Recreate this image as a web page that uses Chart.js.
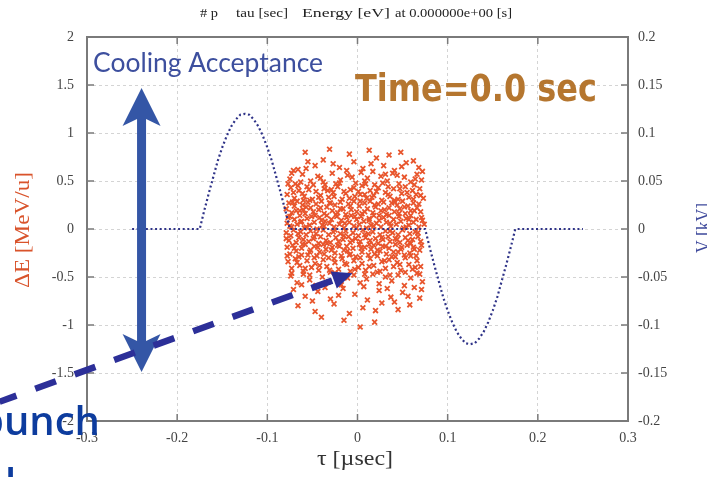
<!DOCTYPE html>
<html>
<head>
<meta charset="utf-8">
<script src="https://cdn.jsdelivr.net/npm/chart.js@4.4.0/dist/chart.umd.min.js"></script>
<style>
html, body { margin: 0; padding: 0; background: #fff; }
canvas { display: block; }
</style>
</head>
<body>
<canvas id="grafico" width="707" height="477"></canvas>
<script>
// =========================
// DADOS
// =========================

const xTicks = [-0.3, -0.2, -0.1, 0, 0.1, 0.2, 0.3];
const xTickLabels = ['-0.3', '-0.2', '-0.1', '0', '0.1', '0.2', '0.3'];
const yTicks = [-2, -1.5, -1, -0.5, 0, 0.5, 1, 1.5, 2];
const yTickLabels = ['-2', '-1.5', '-1', '-0.5', '0', '0.5', '1', '1.5', '2'];
const vTicks = [-0.2, -0.15, -0.1, -0.05, 0, 0.05, 0.1, 0.15, 0.2];
const vTickLabels = ['-0.2', '-0.15', '-0.1', '-0.05', '0', '0.05', '0.1', '0.15', '0.2'];

// tensão V [kV] em função de tau [usec]
const voltTau = [
    -0.25, -0.245, -0.24, -0.235, -0.23, -0.225, -0.22, -0.215, -0.21, -0.205,
    -0.2, -0.195, -0.19, -0.185, -0.18, -0.175, -0.17, -0.165, -0.16, -0.155,
    -0.15, -0.145, -0.14, -0.135, -0.13, -0.125, -0.12, -0.115, -0.11, -0.105,
    -0.1, -0.095, -0.09, -0.085, -0.08, -0.075, -0.07, -0.065, -0.06, -0.055,
    -0.05, -0.045, -0.04, -0.035, -0.03, -0.025, -0.02, -0.015, -0.01, -0.005,
    0, 0.005, 0.01, 0.015, 0.02, 0.025, 0.03, 0.035, 0.04, 0.045,
    0.05, 0.055, 0.06, 0.065, 0.07, 0.075, 0.08, 0.085, 0.09, 0.095,
    0.1, 0.105, 0.11, 0.115, 0.12, 0.125, 0.13, 0.135, 0.14, 0.145,
    0.15, 0.155, 0.16, 0.165, 0.17, 0.175, 0.18, 0.185, 0.19, 0.195,
    0.2, 0.205, 0.21, 0.215, 0.22, 0.225, 0.23, 0.235, 0.24, 0.245, 0.25
];
const voltKV = [
    0, 0, 0, 0, 0, 0, 0, 0, 0, 0, 0, 0, 0, 0, 0, 0,
    0.019, 0.037, 0.054, 0.071, 0.085, 0.097, 0.107, 0.114, 0.119, 0.12,
    0.119, 0.114, 0.107, 0.097, 0.085, 0.071, 0.054, 0.037, 0.019,
    0, 0, 0, 0, 0, 0, 0, 0, 0, 0, 0, 0, 0, 0, 0, 0,
    0, 0, 0, 0, 0, 0, 0, 0, 0, 0, 0, 0, 0, 0, 0,
    -0.019, -0.037, -0.054, -0.071, -0.085, -0.097, -0.107, -0.114, -0.119, -0.12,
    -0.119, -0.114, -0.107, -0.097, -0.085, -0.071, -0.054, -0.037, -0.019,
    0, 0, 0, 0, 0, 0, 0, 0, 0, 0, 0, 0, 0, 0, 0, 0
];

// partículas [tau usec, dE MeV/u]
const particulas = [
    [-0.058,0.80],[-0.031,0.83],[-0.009,0.78],[0.013,0.82],[0.048,0.80],[0.062,0.71],[-0.071,0.61],[0.035,0.77],
    [-0.066,0.62],[-0.047,0.66],[-0.038,0.72],[-0.020,0.64],[-0.004,0.70],[0.006,0.63],[0.021,0.74],[0.029,0.66],
    [0.041,0.61],[0.054,0.69],[0.068,0.64],[-0.055,0.70],[-0.012,0.61],[0.015,0.68],
    [-0.075,0.52],[-0.069,0.47],[-0.061,0.57],[-0.052,0.50],[-0.044,0.55],[-0.036,0.46],[-0.028,0.58],[-0.019,0.51],
    [-0.011,0.56],[-0.002,0.48],[0.004,0.59],[0.011,0.53],[0.019,0.46],[0.026,0.55],[0.033,0.50],[0.039,0.58],
    [0.046,0.47],[0.052,0.54],[0.059,0.49],[0.066,0.57],[0.071,0.51],[-0.063,0.49],[-0.024,0.47],[0.008,0.50],[0.044,0.56],
    [-0.078,0.36],[-0.074,0.43],[-0.070,0.32],[-0.065,0.40],[-0.059,0.34],[-0.056,0.44],[-0.050,0.31],[-0.046,0.39],
    [-0.041,0.35],[-0.037,0.42],[-0.032,0.33],[-0.027,0.38],[-0.022,0.44],[-0.017,0.31],[-0.013,0.37],[-0.008,0.41],
    [-0.003,0.34],[0.001,0.39],[0.005,0.45],[0.010,0.32],[0.014,0.40],[0.018,0.35],[0.023,0.43],[0.027,0.30],
    [0.031,0.38],[0.036,0.34],[0.040,0.42],[0.045,0.31],[0.049,0.37],[0.053,0.44],[0.057,0.33],[0.061,0.40],
    [0.065,0.36],[0.069,0.42],[0.073,0.32],[-0.061,0.37],[-0.029,0.41],[0.008,0.36],[0.034,0.44],[0.062,0.31],
    [-0.079,0.21],[-0.076,0.27],[-0.073,0.17],[-0.070,0.24],[-0.067,0.29],[-0.064,0.19],[-0.061,0.25],[-0.058,0.16],
    [-0.055,0.28],[-0.052,0.22],[-0.049,0.18],[-0.046,0.26],[-0.043,0.20],[-0.040,0.29],[-0.037,0.16],[-0.034,0.23],
    [-0.031,0.27],[-0.028,0.19],[-0.025,0.25],[-0.022,0.17],[-0.019,0.28],[-0.016,0.21],[-0.013,0.15],[-0.010,0.26],
    [-0.007,0.20],[-0.004,0.29],[-0.001,0.18],[0.002,0.24],[0.005,0.16],[0.008,0.27],[0.011,0.21],[0.014,0.29],
    [0.017,0.17],[0.020,0.23],[0.023,0.26],[0.026,0.19],[0.029,0.28],[0.032,0.15],[0.035,0.22],[0.038,0.27],
    [0.041,0.18],[0.044,0.25],[0.047,0.21],[0.050,0.29],[0.053,0.16],[0.056,0.24],[0.059,0.19],[0.062,0.27],
    [0.066,0.22],[0.070,0.18],
    [-0.078,0.06],[-0.075,0.13],[-0.073,0.02],[-0.070,0.10],[-0.067,0.05],[-0.064,0.14],[-0.062,0.08],[-0.059,0.01],
    [-0.056,0.11],[-0.053,0.04],[-0.051,0.13],[-0.048,0.07],[-0.045,0.00],[-0.042,0.12],[-0.040,0.09],[-0.037,0.03],
    [-0.034,0.14],[-0.031,0.06],[-0.029,0.10],[-0.026,0.02],[-0.023,0.13],[-0.020,0.05],[-0.018,0.09],[-0.015,0.01],
    [-0.012,0.12],[-0.009,0.07],[-0.007,0.14],[-0.004,0.03],[-0.001,0.10],[0.002,0.05],[0.004,0.13],[0.007,0.08],
    [0.010,0.01],[0.013,0.11],[0.015,0.04],[0.018,0.14],[0.021,0.06],[0.024,0.09],[0.026,0.02],[0.029,0.12],
    [0.032,0.07],[0.035,0.14],[0.037,0.03],[0.040,0.10],[0.043,0.05],[0.046,0.13],[0.048,0.08],[0.051,0.01],
    [0.054,0.11],[0.057,0.04],[0.059,0.14],[0.062,0.07],[0.065,0.10],[0.068,0.02],[0.071,0.12],
    [-0.079,-0.04],[-0.076,-0.12],[-0.074,-0.07],[-0.071,-0.01],[-0.068,-0.14],[-0.065,-0.09],[-0.063,-0.03],[-0.060,-0.11],
    [-0.057,-0.06],[-0.054,-0.13],[-0.052,-0.02],[-0.049,-0.10],[-0.046,-0.05],[-0.043,-0.15],[-0.041,-0.08],[-0.038,-0.01],
    [-0.035,-0.12],[-0.032,-0.06],[-0.030,-0.14],[-0.027,-0.03],[-0.024,-0.09],[-0.021,-0.13],[-0.019,-0.05],[-0.016,-0.11],
    [-0.013,-0.02],[-0.010,-0.08],[-0.008,-0.14],[-0.005,-0.04],[-0.002,-0.10],[0.001,-0.07],[0.003,-0.13],[0.006,-0.01],
    [0.009,-0.09],[0.012,-0.05],[0.014,-0.12],[0.017,-0.03],[0.020,-0.10],[0.023,-0.15],[0.025,-0.06],[0.028,-0.11],
    [0.031,-0.02],[0.034,-0.08],[0.036,-0.13],[0.039,-0.04],[0.042,-0.10],[0.045,-0.06],[0.047,-0.14],[0.050,-0.01],
    [0.053,-0.09],[0.056,-0.12],[0.058,-0.05],[0.061,-0.11],[0.064,-0.03],[0.067,-0.08],[0.070,-0.13],
    [-0.078,-0.19],[-0.075,-0.26],[-0.072,-0.17],[-0.068,-0.23],[-0.065,-0.29],[-0.062,-0.20],[-0.058,-0.16],[-0.055,-0.27],
    [-0.052,-0.22],[-0.048,-0.18],[-0.045,-0.28],[-0.042,-0.24],[-0.038,-0.16],[-0.035,-0.21],[-0.032,-0.30],[-0.028,-0.19],
    [-0.025,-0.25],[-0.022,-0.17],[-0.018,-0.28],[-0.015,-0.22],[-0.012,-0.18],[-0.008,-0.26],[-0.005,-0.20],[-0.002,-0.29],
    [0.002,-0.16],[0.005,-0.24],[0.008,-0.19],[0.012,-0.27],[0.015,-0.21],[0.018,-0.17],[0.022,-0.28],[0.025,-0.23],
    [0.028,-0.18],[0.032,-0.26],[0.035,-0.20],[0.038,-0.29],[0.042,-0.16],[0.045,-0.24],[0.048,-0.21],[0.052,-0.27],
    [0.055,-0.17],[0.058,-0.25],[0.062,-0.19],[0.065,-0.28],[0.069,-0.22],
    [-0.077,-0.34],[-0.073,-0.41],[-0.069,-0.31],[-0.064,-0.38],[-0.060,-0.44],[-0.056,-0.33],[-0.051,-0.40],[-0.047,-0.36],
    [-0.043,-0.43],[-0.038,-0.32],[-0.034,-0.39],[-0.030,-0.45],[-0.025,-0.35],[-0.021,-0.42],[-0.017,-0.31],[-0.012,-0.37],
    [-0.008,-0.44],[-0.004,-0.33],[0.001,-0.40],[0.005,-0.36],[0.009,-0.43],[0.014,-0.31],[0.018,-0.38],[0.022,-0.45],
    [0.027,-0.34],[0.031,-0.41],[0.035,-0.32],[0.040,-0.39],[0.044,-0.35],[0.048,-0.43],[0.053,-0.30],[0.057,-0.37],
    [0.061,-0.42],[0.066,-0.33],[0.070,-0.39],
    [-0.074,-0.49],[-0.067,-0.56],[-0.060,-0.47],[-0.053,-0.53],[-0.046,-0.59],[-0.039,-0.50],[-0.032,-0.55],[-0.025,-0.46],
    [-0.018,-0.58],[-0.011,-0.51],[-0.004,-0.48],[0.003,-0.56],[0.010,-0.52],[0.017,-0.47],[0.024,-0.57],[0.031,-0.50],
    [0.038,-0.54],[0.045,-0.48],[0.052,-0.59],[0.059,-0.51],[0.066,-0.46],[0.072,-0.55],
    [-0.071,-0.63],[-0.058,-0.70],[-0.044,-0.65],[-0.030,-0.73],[-0.016,-0.62],[-0.003,-0.68],[0.011,-0.74],[0.024,-0.64],
    [0.037,-0.71],[0.050,-0.66],[0.063,-0.61],[0.069,-0.72],
    [-0.066,-0.80],[-0.047,-0.86],[-0.026,-0.78],[-0.009,-0.88],[0.006,-0.82],[0.027,-0.77],[0.045,-0.84],[0.058,-0.79],
    [-0.015,-0.95],[0.003,-1.02],[0.019,-0.97],[-0.040,-0.92],
    [-0.077,0.47],[-0.071,0.38],[-0.066,0.45],[-0.060,0.30],[-0.054,0.41],[-0.049,0.46],[-0.043,0.33],[-0.038,0.49],
    [-0.033,0.40],[-0.026,0.34],[-0.020,0.48],[-0.015,0.39],[-0.009,0.32],[-0.004,0.43],[0.003,0.36],[0.009,0.47],
    [0.016,0.33],[0.021,0.39],[0.028,0.48],[0.034,0.36],[0.041,0.30],[0.047,0.42],[0.055,0.38],[0.063,0.46],[0.070,0.35],
    [-0.077,0.12],[-0.072,0.28],[-0.068,0.19],[-0.063,0.07],[-0.057,0.23],[-0.053,0.30],[-0.047,0.14],[-0.041,0.22],
    [-0.036,0.08],[-0.030,0.27],[-0.024,0.15],[-0.019,0.21],[-0.014,0.06],[-0.008,0.24],[-0.003,0.13],[0.003,0.29],
    [0.008,0.18],[0.013,0.09],[0.019,0.25],[0.024,0.14],[0.030,0.20],[0.036,0.06],[0.041,0.28],[0.046,0.16],
    [0.052,0.23],[0.057,0.10],[0.063,0.19],[0.068,0.26],[0.072,0.09],[-0.060,0.20],
    [-0.079,-0.10],[-0.075,0.03],[-0.070,-0.20],[-0.066,-0.05],[-0.061,-0.16],[-0.057,0.02],[-0.053,-0.24],[-0.048,-0.08],
    [-0.044,-0.19],[-0.039,0.04],[-0.034,-0.15],[-0.029,-0.22],[-0.025,-0.01],[-0.020,-0.18],[-0.015,-0.07],[-0.011,-0.23],
    [-0.006,-0.12],[-0.001,0.01],[0.004,-0.20],[0.008,-0.06],[0.013,-0.16],[0.018,0.03],[0.022,-0.22],[0.027,-0.09],
    [0.031,-0.18],[0.036,-0.02],[0.040,-0.24],[0.044,-0.11],[0.049,-0.19],[0.054,0.02],[0.059,-0.15],[0.063,-0.21],
    [0.067,-0.04],[0.071,-0.17],[0.074,0.05],
    [-0.078,-0.28],[-0.073,-0.46],[-0.067,-0.35],[-0.062,-0.27],[-0.058,-0.41],[-0.053,-0.48],[-0.048,-0.30],[-0.042,-0.38],
    [-0.037,-0.26],[-0.031,-0.43],[-0.026,-0.31],[-0.020,-0.49],[-0.014,-0.36],[-0.009,-0.27],[-0.003,-0.42],[0.003,-0.30],
    [0.008,-0.47],[0.013,-0.39],[0.019,-0.26],[0.025,-0.44],[0.030,-0.33],[0.036,-0.48],[0.042,-0.29],[0.047,-0.37],
    [0.053,-0.45],[0.059,-0.28],[0.064,-0.40],[0.069,-0.47],
    [-0.062,-0.58],[-0.036,-0.61],[-0.021,-0.69],[0.007,-0.60],[0.020,-0.85],[0.033,-0.62],[0.041,-0.76],[0.056,-0.70],
    [-0.050,-0.75],[0.071,-0.63],
    [-0.073,0.58],[-0.057,0.63],[-0.041,0.53],[-0.027,0.68],[-0.006,0.54],[0.017,0.60],[0.031,0.57],[0.049,0.65],
    [0.064,0.52],[0.072,0.60]
];

// =========================
// TEXTO / DESENHO
// =========================

const serif = '"Liberation Serif", "DejaVu Serif", serif';

function texto(ctx, txt, x, y, largura, fonte, cor, alinhar, rot) {
    ctx.save();
    ctx.font = fonte;
    ctx.fillStyle = cor;
    ctx.textAlign = alinhar || 'center';
    ctx.textBaseline = 'middle';
    const w = ctx.measureText(txt).width;
    ctx.translate(x, y);
    if (rot) ctx.rotate(rot);
    ctx.scale(largura / w, 1);
    ctx.fillText(txt, 0, 0);
    ctx.restore();
}

function setaDupla(ctx, cx, t, b, cor) {
    ctx.save();
    ctx.fillStyle = cor;
    ctx.beginPath();
    ctx.moveTo(cx, t);
    ctx.lineTo(cx + 19, t + 38);
    ctx.lineTo(cx + 4.5, t + 31);
    ctx.lineTo(cx + 4.5, b - 31);
    ctx.lineTo(cx + 19, b - 38);
    ctx.lineTo(cx, b);
    ctx.lineTo(cx - 19, b - 38);
    ctx.lineTo(cx - 4.5, b - 31);
    ctx.lineTo(cx - 4.5, t + 31);
    ctx.lineTo(cx - 19, t + 38);
    ctx.closePath();
    ctx.fill();
    ctx.restore();
}

function setaTracejada(ctx, x0, y0, x1, y1, cor) {
    const ang = Math.atan2(y1 - y0, x1 - x0);
    const cab = 20;
    const xf = x1 - cab * Math.cos(ang);
    const yf = y1 - cab * Math.sin(ang);
    ctx.save();
    ctx.strokeStyle = cor;
    ctx.lineWidth = 6.5;
    ctx.setLineDash([22, 20]);
    ctx.lineDashOffset = 4;
    ctx.beginPath();
    ctx.moveTo(x0, y0);
    ctx.lineTo(xf, yf);
    ctx.stroke();
    ctx.setLineDash([]);
    ctx.fillStyle = cor;
    ctx.translate(x1, y1);
    ctx.rotate(ang);
    ctx.beginPath();
    ctx.moveTo(0, 0);
    ctx.lineTo(-cab, -9);
    ctx.lineTo(-cab, 9);
    ctx.closePath();
    ctx.fill();
    ctx.restore();
}

const extras = {
    id: 'extras',
    afterDatasetsDraw(chart) {
        const ctx = chart.ctx;
        const a = chart.chartArea;
        const sx = chart.scales.x, sy = chart.scales.y, sv = chart.scales.y2;

        ctx.save();
        ctx.strokeStyle = '#7a7a7a';
        ctx.lineWidth = 1.5;
        ctx.beginPath();
        xTicks.forEach(v => {
            const px = sx.getPixelForValue(v);
            ctx.moveTo(px, a.bottom); ctx.lineTo(px, a.bottom - 7);
            ctx.moveTo(px, a.top); ctx.lineTo(px, a.top + 7);
        });
        yTicks.forEach(v => {
            const py = sy.getPixelForValue(v);
            ctx.moveTo(a.left, py); ctx.lineTo(a.left + 7, py);
        });
        vTicks.forEach(v => {
            const py = sv.getPixelForValue(v);
            ctx.moveTo(a.right, py); ctx.lineTo(a.right - 7, py);
        });
        ctx.stroke();
        ctx.lineWidth = 2;
        ctx.strokeRect(a.left, a.top, a.right - a.left, a.bottom - a.top);
        ctx.restore();
    },
    afterDraw(chart) {
        const ctx = chart.ctx;
        const sx = chart.scales.x, sy = chart.scales.y;

        // título superior
        const ft = '13px ' + serif;
        texto(ctx, '# p', 200, 14, 18, ft, '#222', 'left');
        texto(ctx, 'tau [sec]', 236, 14, 52, ft, '#222', 'left');
        texto(ctx, 'Energy [eV]', 302, 14, 88, ft, '#222', 'left');
        texto(ctx, 'at 0.000000e+00 [s]', 395, 14, 117, ft, '#222', 'left');

        // títulos dos eixos
        texto(ctx, 'ΔE [MeV/u]', 24, 230, 116, '20px ' + serif, '#d9532b', 'center', -Math.PI / 2);
        texto(ctx, 'V [kV]', 704, 228, 50, '22px ' + serif, '#3f4a9c', 'center', -Math.PI / 2);
        texto(ctx, 'τ [µsec]', 355, 460, 76, '20px ' + serif, '#333', 'center');

        // anotações
        ctx.save();
        ctx.font = '26px Lato';
        ctx.fillStyle = '#3d4f9e';
        ctx.textBaseline = 'alphabetic';
        const wc = ctx.measureText('Cooling Acceptance').width;
        ctx.translate(93, 72);
        ctx.scale(230 / wc, 1);
        ctx.fillText('Cooling Acceptance', 0, 0);
        ctx.restore();

        ctx.save();
        ctx.font = 'bold 37px "DejaVu Sans"';
        ctx.fillStyle = '#b5762f';
        ctx.textBaseline = 'alphabetic';
        const wt = ctx.measureText('Time=0.0 sec').width;
        ctx.translate(355, 101);
        ctx.scale(242 / wt, 1);
        ctx.fillText('Time=0.0 sec', 0, 0);
        ctx.restore();

        setaDupla(ctx, sx.getPixelForValue(-0.2395), sy.getPixelForValue(1.47), sy.getPixelForValue(-1.49), '#3456a6');

        setaTracejada(ctx,
            sx.getPixelForValue(-0.397), sy.getPixelForValue(-1.80),
            sx.getPixelForValue(-0.0055), sy.getPixelForValue(-0.46),
            '#2c2f98');

        // "bunch" cortado na borda esquerda
        ctx.save();
        ctx.font = '600 40px "Open Sans"';
        ctx.fillStyle = '#0d3c9e';
        ctx.textBaseline = 'alphabetic';
        ctx.textAlign = 'right';
        ctx.fillText('bunch', 100, 435);
        ctx.restore();

        ctx.save();
        ctx.font = '600 40px "Open Sans"';
        ctx.fillStyle = '#0d3c9e';
        ctx.textAlign = 'left';
        ctx.fillText('l', 5, 497);
        ctx.restore();
    }
};

// =========================
// GRÁFICO
// =========================

const tickFont = { family: serif, size: 14 };
const corGrade = '#d4d4d4';

const chart = new Chart(
    document.getElementById('grafico'),
    {
        type: 'scatter',
        data: {
            datasets: [
                {
                    label: 'V',
                    data: voltTau.map((t, i) => ({ x: t, y: voltKV[i] })),
                    yAxisID: 'y2',
                    showLine: true,
                    pointRadius: 0,
                    borderWidth: 2.2,
                    borderDash: [2, 2.6],
                    borderColor: '#2f3388'
                },
                {
                    label: 'dE',
                    data: particulas.map(p => ({ x: p[0], y: p[1] })),
                    yAxisID: 'y',
                    pointStyle: 'crossRot',
                    pointRadius: 3.4,
                    borderWidth: 1.8,
                    borderColor: '#e8552c'
                }
            ]
        },
        options: {
            responsive: false,
            animation: false,
            layout: { padding: { top: 37, left: 0, right: 0, bottom: 0 } },
            plugins: { legend: { display: false }, tooltip: { enabled: false } },
            scales: {
                x: {
                    type: 'linear',
                    position: 'bottom',
                    min: -0.3,
                    max: 0.3,
                    afterBuildTicks: s => { s.ticks = xTicks.map(v => ({ value: v })); },
                    afterFit: s => { s.height = 56; },
                    ticks: {
                        callback: (v, i) => xTickLabels[i],
                        font: tickFont,
                        color: '#444',
                        padding: 9,
                        maxRotation: 0,
                        autoSkip: false
                    },
                    grid: { color: corGrade, drawTicks: false },
                    border: { display: false, dash: [3, 3] }
                },
                y: {
                    type: 'linear',
                    position: 'left',
                    min: -2,
                    max: 2,
                    afterBuildTicks: s => { s.ticks = yTicks.map(v => ({ value: v })); },
                    afterFit: s => { s.width = 87; },
                    ticks: {
                        callback: (v, i) => yTickLabels[i],
                        font: tickFont,
                        color: '#444',
                        padding: 13,
                        autoSkip: false
                    },
                    grid: { color: corGrade, drawTicks: false },
                    border: { display: false, dash: [3, 3] }
                },
                y2: {
                    type: 'linear',
                    position: 'right',
                    min: -0.2,
                    max: 0.2,
                    afterBuildTicks: s => { s.ticks = vTicks.map(v => ({ value: v })); },
                    afterFit: s => { s.width = 79; },
                    ticks: {
                        callback: (v, i) => vTickLabels[i],
                        font: tickFont,
                        color: '#444',
                        padding: 10,
                        autoSkip: false
                    },
                    grid: { display: false, drawTicks: false },
                    border: { display: false }
                }
            }
        },
        plugins: [extras]
    }
);
</script>
</body>
</html>
